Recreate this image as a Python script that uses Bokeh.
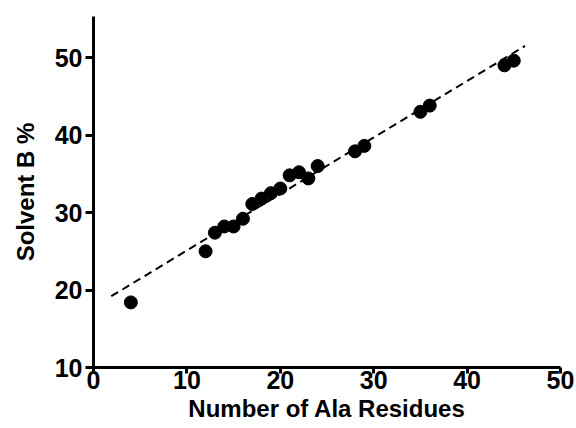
from bokeh.plotting import figure
from bokeh.models import Range1d, FixedTicker
from bokeh.embed import file_html
from bokeh.resources import INLINE

# Data
ala_residues = [4, 12, 13, 14, 15, 16, 17, 18, 19, 20, 21, 22, 23, 24, 28, 29, 35, 36, 44, 45]
solvent_b = [18.4, 25.0, 27.4, 28.2, 28.2, 29.2, 31.1, 31.8, 32.5, 33.1, 34.8, 35.2, 34.4, 36.0,
             37.9, 38.6, 43.0, 43.8, 49.0, 49.6]
fit_x = [1.9, 46.2]
fit_y = [19.2, 51.5]
x_ticks = [0, 10, 20, 30, 40, 50]
y_ticks = [10, 20, 30, 40, 50]

FONT = "Liberation Sans"

p = figure(width=576, height=428, output_backend="svg", toolbar_location=None,
           x_range=Range1d(0, 50), y_range=Range1d(10, 55.3),
           min_border_left=93, min_border_right=16, min_border_top=16, min_border_bottom=61)
p.grid.visible = False
p.outline_line_color = None
p.background_fill_color = "white"
p.border_fill_color = "white"

p.line(fit_x, fit_y, line_color="black", line_width=2, line_dash="8 5")
p.scatter(ala_residues, solvent_b, size=13, fill_color="black", line_color="black")

for ax in (p.xaxis[0], p.yaxis[0]):
    ax.axis_line_width = 3
    ax.axis_line_color = "black"
    ax.major_tick_line_width = 3
    ax.major_tick_in = 0
    ax.minor_tick_line_color = None
    ax.major_label_text_font = FONT
    ax.major_label_text_font_style = "bold"
    ax.major_label_text_font_size = "25px"
    ax.major_label_text_color = "black"
    ax.axis_label_text_font = FONT
    ax.axis_label_text_font_style = "bold"
    ax.axis_label_text_font_size = "24px"
    ax.axis_label_text_color = "black"

p.xaxis.ticker = FixedTicker(ticks=x_ticks)
p.yaxis.ticker = FixedTicker(ticks=y_ticks)
p.xaxis.axis_label = "Number of Ala Residues"
p.yaxis.axis_label = "Solvent B %"
p.xaxis.major_tick_out = 6
p.xaxis.major_label_standoff = -3
p.xaxis.axis_label_standoff = 3
p.yaxis.major_tick_out = 8
p.yaxis.major_label_standoff = 3
p.yaxis.axis_label_standoff = 13

open("out.html", "w").write(file_html(p, INLINE))
